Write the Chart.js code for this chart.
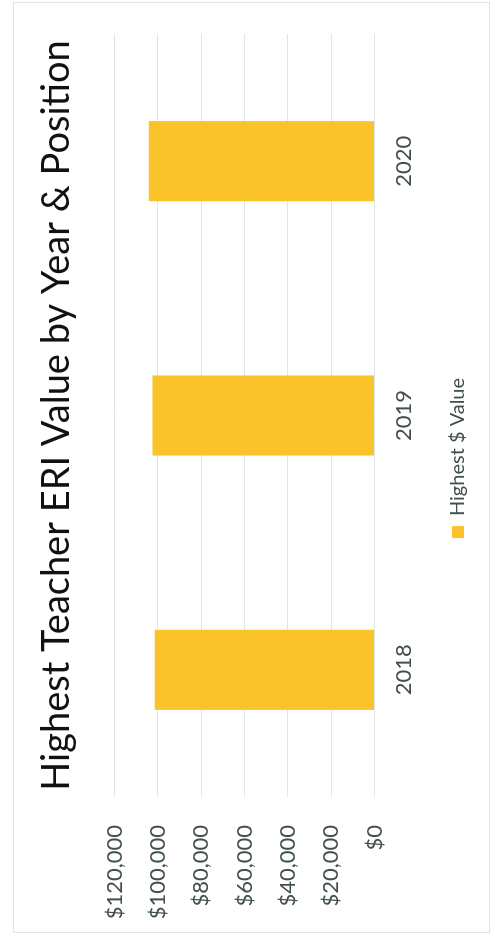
<!DOCTYPE html>
<html>
<head>
<meta charset="utf-8">
<script src="https://cdn.jsdelivr.net/npm/chart.js@4"></script>
<style>
    html, body { margin: 0; padding: 0; background: #ffffff; overflow: hidden; }
    body { width: 495px; height: 936px; position: relative; }
    #frame { position: absolute; left: 13px; top: 2px; width: 477px; height: 931px; border: 1px solid #dfe5e5; box-sizing: border-box; }
    #turn { position: absolute; left: 0; top: 0; width: 936px; height: 495px; transform-origin: 0 0; transform: translateY(936px) rotate(-90deg); }
</style>
</head>
<body>
<div id="frame"></div>
<div id="turn"><canvas id="chart" width="936" height="495"></canvas></div>
<script>
// the scanned chart is lying on its side, so it is drawn upright and turned
let years = ['2018', '2019', '2020'];
let highestValues = [101500, 102500, 104200];
let seriesLabel = 'Highest $ Value';
let chartTitle = 'Highest Teacher ERI Value by Year & Position';
let valueMin = 0;
let valueMax = 120000;
let valueStep = 20000;

let gold = 'rgb(250, 195, 42)';
let textGrey = '#42504d';
let gridColor = '#dde7e7';

// legend sits a bit right of the canvas centre in the original
let legendNudge = {
    id: 'legendNudge',
    afterLayout: chart =>
    {
        let legend = chart.legend;
        legend.left += 22;
        legend.right += 22;
    },
};

let config = {
    type: 'bar',
    data: {
        labels: years,
        datasets: [{
            label: seriesLabel,
            data: highestValues,
            backgroundColor: gold,
            borderWidth: 0,
            categoryPercentage: 1.0,
            barPercentage: 0.315,
        }],
    },
    options: {
        responsive: false,
        animation: false,
        devicePixelRatio: 1,
        layout: {
            padding: { left: 10, right: 34, top: 0, bottom: 17 },
        },
        scales: {
            x: {
                grid: { display: false, drawTicks: false },
                border: { display: false },
                ticks: {
                    padding: 16,
                    color: textGrey,
                    font: { family: 'Lato', size: 22 },
                },
            },
            y: {
                min: valueMin,
                max: valueMax,
                grid: { color: gridColor, lineWidth: 1, drawTicks: false },
                border: { display: false },
                ticks: {
                    stepSize: valueStep,
                    padding: 28,
                    color: textGrey,
                    font: { family: 'Lato', size: 22 },
                    callback: value => '$' + value.toLocaleString('en-US'),
                },
                afterFit: scale =>
                {
                    scale.width = 129;
                },
            },
        },
        plugins: {
            title: {
                display: true,
                text: chartTitle,
                fullSize: false,
                color: '#111111',
                font: { family: 'Lato', size: 38, weight: 'normal' },
                padding: { top: 34, bottom: 35 },
            },
            legend: {
                display: true,
                position: 'bottom',
                labels: {
                    boxWidth: 12,
                    boxHeight: 12,
                    padding: 15,
                    color: textGrey,
                    font: { family: 'Lato', size: 20 },
                },
            },
            tooltip: { enabled: false },
        },
    },
    plugins: [legendNudge],
};

let chart = new Chart('chart', config);
</script>
</body>
</html>
